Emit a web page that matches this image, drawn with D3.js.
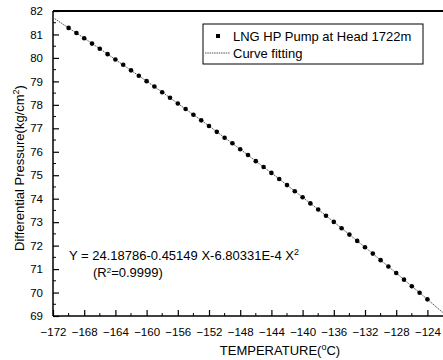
<!DOCTYPE html>
<html><head><meta charset="utf-8">
<script src="https://cdn.jsdelivr.net/npm/d3@7"></script>
<style>body{margin:0;background:#fff}svg{display:block}text{font-family:"Liberation Sans",Arial,sans-serif;fill:#000}</style>
</head><body><svg id="c" width="443" height="360"></svg>
<script>
const temps = [-170,-169,-168,-167,-166,-165,-164,-163,-162,-161,-160,-159,-158,-157,-156,-155,-154,-153,-152,-151,-150,-149,-148,-147,-146,-145,-144,-143,-142,-141,-140,-139,-138,-137,-136,-135,-134,-133,-132,-131,-130,-129,-128,-127,-126,-125,-124];
const pressure = [81.28,81.06,80.84,80.61,80.39,80.16,79.93,79.71,79.47,79.24,79.01,78.78,78.54,78.30,78.06,77.82,77.58,77.34,77.10,76.85,76.60,76.36,76.11,75.86,75.60,75.35,75.10,74.84,74.58,74.32,74.06,73.80,73.54,73.27,73.01,72.74,72.47,72.20,71.93,71.66,71.38,71.11,70.83,70.55,70.27,69.99,69.71];
const fitTemps = [-172,-170,-168,-166,-164,-162,-160,-158,-156,-154,-152,-150,-148,-146,-144,-142,-140,-138,-136,-134,-132,-130,-128,-126,-124,-122];
const fitValues = [81.72,81.28,80.84,80.39,79.93,79.47,79.01,78.54,78.06,77.58,77.10,76.60,76.11,75.60,75.10,74.58,74.06,73.54,73.01,72.47,71.93,71.38,70.83,70.27,69.71,69.14];
const xTicks = [-172,-168,-164,-160,-156,-152,-148,-144,-140,-136,-132,-128,-124];
const yTicks = [69,70,71,72,73,74,75,76,77,78,79,80,81,82];
const seriesName = "LNG HP Pump at Head 1722m";
const fitName = "Curve fitting";

const svg = d3.select("#c");
const L = 53, R = 443, T = 11, B = 316;
const x = d3.scaleLinear().domain([-172,-122]).range([L,R]);
const y = d3.scaleLinear().domain([69,82]).range([B,T]);

// frame lines
svg.append("line").attr("x1",L).attr("x2",R+2).attr("y1",T).attr("y2",T).attr("stroke","#000").attr("stroke-width",2);
svg.append("line").attr("x1",L).attr("x2",L).attr("y1",T).attr("y2",B).attr("stroke","#000").attr("stroke-width",1.5);
svg.append("line").attr("x1",L).attr("x2",R+2).attr("y1",B).attr("y2",B).attr("stroke","#000").attr("stroke-width",1.5);

// x axis
const xMinor = d3.range(-170,-122,4);
const gx = svg.append("g").attr("transform",`translate(0,${B})`)
  .call(d3.axisBottom(x).tickValues(xTicks).tickSizeInner(-6).tickSizeOuter(0).tickPadding(12).tickFormat(d3.format("d")));
gx.select(".domain").remove();
gx.selectAll("line").attr("stroke-width",1.2);
gx.selectAll("text").attr("font-size",11.5);
svg.append("g").selectAll("line").data(xMinor).join("line")
  .attr("x1",d=>x(d)).attr("x2",d=>x(d)).attr("y1",B).attr("y2",B-3).attr("stroke","#000");

// y axis
const yMinor = d3.range(69.5,82,1);
const gy = svg.append("g").attr("transform",`translate(${L},0)`)
  .call(d3.axisLeft(y).tickValues(yTicks).tickSizeInner(-6).tickSizeOuter(0).tickPadding(10).tickFormat(d3.format("d")));
gy.select(".domain").remove();
gy.selectAll("line").attr("stroke-width",1.2);
gy.selectAll("text").attr("font-size",11.5);
svg.append("g").selectAll("line").data(yMinor).join("line")
  .attr("x1",L).attr("x2",L+3).attr("y1",d=>y(d)).attr("y2",d=>y(d)).attr("stroke","#000");

// fit line
const fitData = fitTemps.map((t,i)=>[t,fitValues[i]]);
svg.append("path").datum(fitData)
  .attr("d",d3.line().x(d=>x(d[0])).y(d=>y(d[1])).curve(d3.curveMonotoneX))
  .attr("fill","none").attr("stroke","#444").attr("stroke-width",0.9).attr("stroke-dasharray","1.5,0.8");

// points
svg.append("g").selectAll("circle").data(temps.map((t,i)=>[t,pressure[i]])).join("circle")
  .attr("cx",d=>x(d[0])).attr("cy",d=>y(d[1])).attr("r",2.3).attr("fill","#000");

// legend
const lg = svg.append("g");
lg.append("rect").attr("x",203).attr("y",24).attr("width",220).attr("height",40)
  .attr("fill","#fff").attr("stroke","#000").attr("stroke-width",1);
lg.append("rect").attr("x",216).attr("y",34).attr("width",4).attr("height",4).attr("fill","#000");
lg.append("text").attr("x",233).attr("y",40.5).attr("font-size",13).text(seriesName);
lg.append("line").attr("x1",205).attr("x2",230).attr("y1",53).attr("y2",53)
  .attr("stroke","#444").attr("stroke-width",0.9).attr("stroke-dasharray","1.5,0.8");
lg.append("text").attr("x",233).attr("y",57.5).attr("font-size",13).text(fitName);

// equation
const eq = svg.append("text").attr("x",69).attr("y",260).attr("font-size",13);
eq.append("tspan").text("Y = 24.18786-0.45149 X-6.80331E-4 X");
eq.append("tspan").attr("font-size",9).attr("dy",-5).text("2");
const r2 = svg.append("text").attr("x",93).attr("y",277).attr("font-size",13);
r2.append("tspan").text("(R");
r2.append("tspan").attr("font-size",8).attr("dy",-4).text("2");
r2.append("tspan").attr("dy",4).text("=0.9999)");

// axis titles
const xt = svg.append("text").attr("x",280).attr("y",355).attr("text-anchor","middle").attr("font-size",13);
xt.append("tspan").text("TEMPERATURE(");
xt.append("tspan").attr("font-size",9).attr("dy",-5).text("o");
xt.append("tspan").attr("dy",5).text("C)");
const yt = svg.append("text").attr("transform","translate(24,168) rotate(-90)").attr("text-anchor","middle").attr("font-size",13);
yt.append("tspan").text("Differential Pressure(kg/cm");
yt.append("tspan").attr("font-size",9).attr("dy",-5).text("2");
yt.append("tspan").attr("dy",5).text(")");
</script></body></html>
